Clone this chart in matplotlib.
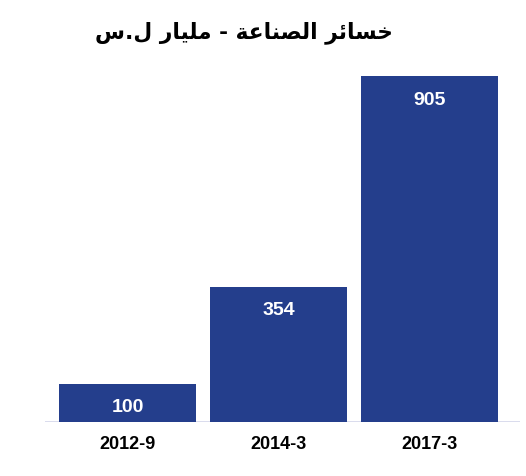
import matplotlib
matplotlib.use("Agg")
import matplotlib.pyplot as plt

categories = ["2012-9", "2014-3", "2017-3"]
values = [100, 354, 905]
# Title: "خسائر الصناعة - مليار ل.س" pre-shaped (Arabic presentation forms, visual order)
title_logical = "خسائر الصناعة - مليار ل.س"
title_visual = ("\uFEB1.\uFEDD \uFEAD\uFE8E\uFEF4\uFEE0\uFEE3 - "
                "\uFE94\uFECB\uFE8E\uFEE8\uFEBC\uFEDF\uFE8D "
                "\uFEAE\uFE8B\uFE8E\uFEB4\uFEA7")

bar_color = "#243e8c"

fig = plt.figure(figsize=(5.26, 4.76), dpi=100)
W, H = 526, 476
left, right = 45, 520
base_y, top_y = 422, 40
ax = fig.add_axes([left / W, (H - base_y) / H, (right - left) / W, (base_y - top_y) / H])

x = list(range(len(categories)))
bars = ax.bar(x, values, width=0.907, color=bar_color, zorder=2)
ax.set_xlim(-0.546, 2.60)
ax.set_ylim(0, 1000)
ax.axhline(0, color="#d3d6ea", lw=1.2, zorder=1)
for s in ax.spines.values():
    s.set_visible(False)
ax.set_yticks([])
ax.set_xticks(x)
ax.set_xticklabels(categories, fontfamily=["Liberation Sans", "DejaVu Sans"],
                   fontweight="bold", fontsize=13)
ax.tick_params(axis="x", length=0, pad=10)

for xi, v in zip(x, values):
    ax.annotate(str(v), (xi, v), xytext=(0, -24), textcoords="offset pixels",
                ha="center", va="center", color="white", fontweight="bold",
                fontsize=14, fontfamily=["Liberation Sans", "DejaVu Sans"])

fig.text(244 / W, 1 - 33 / H, title_visual, ha="center", va="center",
         fontsize=15.7, fontweight="bold", fontfamily=["DejaVu Sans"], color="black")

fig.savefig("out.png", dpi=100)
